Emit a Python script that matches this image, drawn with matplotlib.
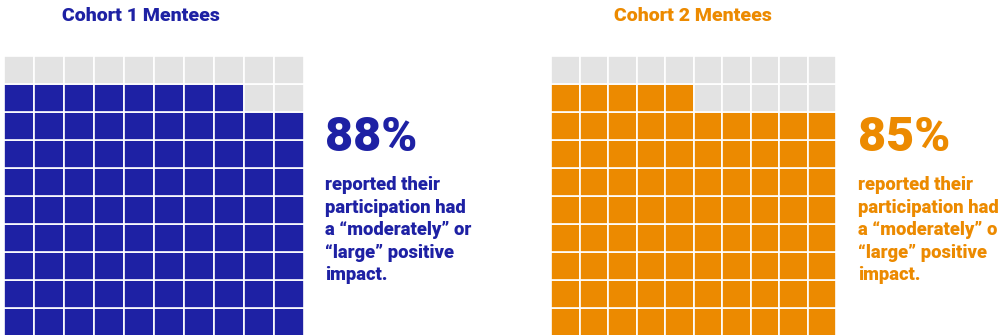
import matplotlib.pyplot as plt

# waffle data: 10x10 grid, cells filled from the bottom row upward
cohorts = ["Cohort 1 Mentees", "Cohort 2 Mentees"]
percents = [88, 85]
colors = ["#1E21A4", "#EC8A00"]
empty_color = "#E3E3E3"
caption = "reported their\nparticipation had\na \u201cmoderately\u201d or\n\u201clarge\u201d positive\nimpact."

W, H = 998, 335
fig = plt.figure(figsize=(W / 100, H / 100), dpi=100)

# pixel boxes (left, top, right, bottom) for each grid
grid_boxes = [(4, 56, 304, 336), (551, 56, 836, 336)]
text_x = [325, 858]
title_x = [141, 693]

FONT = "Roboto"

for i in range(2):
    l, t, r, b = grid_boxes[i]
    ax = fig.add_axes([l / W, 1 - b / H, (r - l) / W, (b - t) / H])
    n = 0
    for row in range(10):
        for col in range(10):
            c = colors[i] if n < percents[i] else empty_color
            ax.bar(col, 1, width=1, bottom=row, align="edge",
                   color=c, edgecolor="white", linewidth=1.2)
            n += 1
    ax.set_xlim(0, 10)
    ax.set_ylim(0, 10)
    ax.axis("off")

    fig.text(title_x[i] / W, 1 - 16 / H, cohorts[i], ha="center", va="center",
             color=colors[i], fontsize=14, fontweight="heavy", family=FONT)
    fig.text(text_x[i] / W, 1 - 151 / H, f"{percents[i]}%", ha="left",
             va="baseline", color=colors[i], fontsize=35, fontweight="heavy",
             family=FONT)
    # right-hand caption runs past the figure edge, as in the printed layout
    fig.text(text_x[i] / W, 1 - 176 / H, caption, ha="left", va="top",
             color=colors[i], fontsize=13.2, fontweight="heavy", family=FONT,
             linespacing=1.33)

fig.savefig("out.png", dpi=100)
